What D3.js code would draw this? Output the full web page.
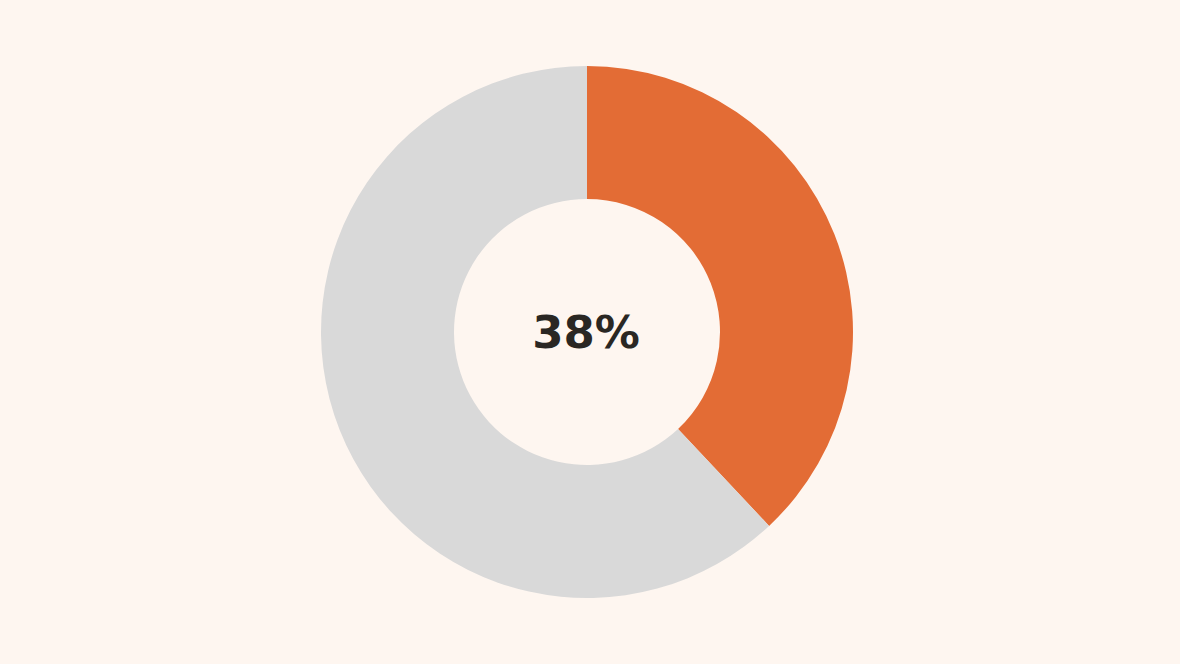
<!DOCTYPE html>
<html>
<head>
<meta charset="utf-8">
<script src="https://cdn.jsdelivr.net/npm/d3@7"></script>
<style>
  html, body { margin: 0; padding: 0; background: #fef6f0; }
  svg { display: block; }
</style>
</head>
<body>
<svg width="1180" height="664"></svg>
<script>
// valores del donut
const categories = ['Sí', 'Resto'];
const values = [38, 62];
const sliceColors = ['#e36c35', '#d9d9d9'];
const centerLabel = '38%';

const svg = d3.select('svg');
const cx = 587, cy = 332;
const outerR = 266, innerR = 133;

const colorScale = d3.scaleOrdinal().domain(categories).range(sliceColors);

const pie = d3.pie().sort(null).value(d => d.value);
const arc = d3.arc().innerRadius(innerR).outerRadius(outerR);

const data = categories.map((c, i) => ({ cat: c, value: values[i] }));

const g = svg.append('g').attr('transform', `translate(${cx},${cy})`);

g.selectAll('path').data(pie(data)).enter()
  .append('path')
  .attr('d', arc)
  .attr('fill', d => colorScale(d.data.cat));

// texto central
g.append('text')
  .text(centerLabel)
  .attr('text-anchor', 'middle')
  .attr('x', -1)
  .attr('y', 16)
  .attr('font-family', 'DejaVu Sans, sans-serif')
  .attr('font-weight', 'bold')
  .attr('font-size', 45)
  .attr('fill', '#2a2723');
</script>
</body>
</html>
